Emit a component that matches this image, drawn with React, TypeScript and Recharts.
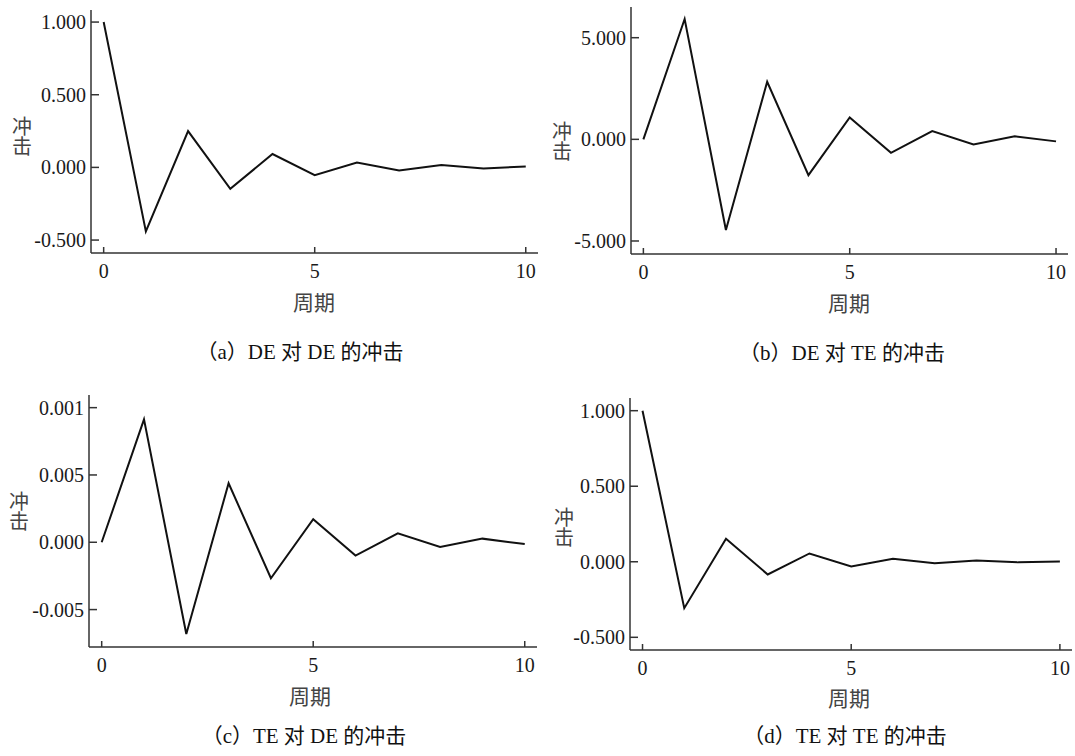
import React from 'react';
import { LineChart, Line, XAxis, YAxis } from 'recharts';

// ---- data ----
const periods = [0, 1, 2, 3, 4, 5, 6, 7, 8, 9, 10];
const deOnDe = [1.0, -0.44, 0.25, -0.147, 0.092, -0.053, 0.034, -0.021, 0.016, -0.007, 0.007];
const deOnTe = [0, 5.92, -4.46, 2.83, -1.76, 1.08, -0.66, 0.41, -0.25, 0.15, -0.1];
const teOnDe = [0, 0.00913, -0.00681, 0.00438, -0.00267, 0.00171, -0.00099, 0.00067, -0.00035, 0.00027, -0.00013];
const teOnTe = [1.0, -0.307, 0.152, -0.084, 0.055, -0.031, 0.02, -0.009, 0.009, -0.004, 0.002];

const xTicks = [0, 5, 10];
const xTickLabels = ['0', '5', '10'];
const yTicksA = [-0.5, 0, 0.5, 1];
const yTickLabelsA = ['-0.500', '0.000', '0.500', '1.000'];
const yTicksB = [-5, 0, 5];
const yTickLabelsB = ['-5.000', '0.000', '5.000'];
const yTicksC = [-0.005, 0, 0.005, 0.01];
const yTickLabelsC = ['-0.005', '0.000', '0.005', '0.001'];
const yTicksD = [-0.5, 0, 0.5, 1];
const yTickLabelsD = ['-0.500', '0.000', '0.500', '1.000'];

const captions = ['（a）DE 对 DE 的冲击', '（b）DE 对 TE 的冲击', '（c）TE 对 DE 的冲击', '（d）TE 对 TE 的冲击'];
const xAxisTitle = '周期';
const yAxisTitle = '冲击';

// ---- layout ----
const SERIF = '"Liberation Serif", "Times New Roman", "Noto Sans CJK SC", serif';
const CJK = '"Noto Sans CJK SC", sans-serif';
const XDOMAIN: [number, number] = [-0.3, 10.29];
const Y_AXIS_W = 80;
const X_AXIS_H = 40;

const panels = [
  {
    values: deOnDe, ticks: yTicksA, labels: yTickLabelsA, domain: [-0.589, 1.083],
    left: 0, top: 0, w: 540, h: 380, plot: { top: 10, left: 91, right: 2, bottom: 127 },
    yTitle: { x: 22, y: 136 }, xTitle: { x: 314, y: 301 }, caption: { x: 300, y: 352 },
  },
  {
    values: deOnTe, ticks: yTicksB, labels: yTickLabelsB, domain: [-5.64, 6.51],
    left: 540, top: 0, w: 535, h: 380, plot: { top: 7, left: 91, right: 7, bottom: 126 },
    yTitle: { x: 562, y: 141 }, xTitle: { x: 849, y: 302 }, caption: { x: 842, y: 353 },
  },
  {
    values: teOnDe, ticks: yTicksC, labels: yTickLabelsC, domain: [-0.00778, 0.01094],
    left: 0, top: 380, w: 540, h: 376, plot: { top: 15, left: 89, right: 3, bottom: 109 },
    yTitle: { x: 19, y: 511 }, xTitle: { x: 310, y: 695 }, caption: { x: 304, y: 736 },
  },
  {
    values: teOnTe, ticks: yTicksD, labels: yTickLabelsD, domain: [-0.584, 1.084],
    left: 540, top: 380, w: 535, h: 376, plot: { top: 18, left: 90, right: 3, bottom: 106 },
    yTitle: { x: 564, y: 527 }, xTitle: { x: 849, y: 697 }, caption: { x: 845, y: 736 },
  },
];

const axisColor = '#333';

function Panel({ p }: { p: (typeof panels)[number] }) {
  const data = periods.map((period, i) => ({ period, value: p.values[i] }));
  const fmtY = (v: number) => {
    const idx = p.ticks.findIndex((t) => Math.abs(t - v) < 1e-12);
    return idx >= 0 ? p.labels[idx] : String(v);
  };
  const fmtX = (v: number) => {
    const idx = xTicks.indexOf(v);
    return idx >= 0 ? xTickLabels[idx] : String(v);
  };
  const margin = {
    top: p.plot.top,
    right: p.plot.right,
    left: p.plot.left - Y_AXIS_W,
    bottom: p.plot.bottom - X_AXIS_H,
  };
  return (
    <div style={{ position: 'absolute', left: p.left, top: p.top, width: p.w, height: p.h }}>
      <LineChart width={p.w} height={p.h} data={data} margin={margin}>
        <XAxis
          dataKey="period"
          type="number"
          domain={XDOMAIN}
          ticks={xTicks}
          interval={0}
          height={X_AXIS_H}
          tickSize={-6}
          tickMargin={17}
          tickFormatter={fmtX}
          axisLine={{ stroke: axisColor, strokeWidth: 1.5 }}
          tickLine={{ stroke: axisColor, strokeWidth: 1.5 }}
          tick={{ fill: '#1a1a1a', fontSize: 20, fontFamily: SERIF }}
          allowDataOverflow
        />
        <YAxis
          type="number"
          domain={p.domain as [number, number]}
          ticks={p.ticks}
          interval={0}
          width={Y_AXIS_W}
          tickSize={-8}
          tickMargin={13}
          tickFormatter={fmtY}
          axisLine={{ stroke: axisColor, strokeWidth: 1.5 }}
          tickLine={{ stroke: axisColor, strokeWidth: 1.5 }}
          tick={{ fill: '#1a1a1a', fontSize: 20, fontFamily: SERIF }}
          allowDataOverflow
        />
        <Line
          type="linear"
          dataKey="value"
          stroke="#111"
          strokeWidth={2}
          dot={false}
          isAnimationActive={false}
        />
      </LineChart>
    </div>
  );
}

function Centered({ x, y, children, style }: { x: number; y: number; children: React.ReactNode; style?: React.CSSProperties }) {
  return (
    <div
      style={{
        position: 'absolute', left: x, top: y, transform: 'translate(-50%, -50%)',
        whiteSpace: 'nowrap', lineHeight: 1, color: '#1a1a1a', ...style,
      }}
    >
      {children}
    </div>
  );
}

export default function App() {
  return (
    <div style={{ position: 'absolute', left: 0, top: 0, width: 1075, height: 756, background: '#fff', overflow: 'hidden' }}>
      {panels.map((p, i) => (
        <Panel key={i} p={p} />
      ))}
      {panels.map((p, i) => (
        <React.Fragment key={'t' + i}>
          <Centered x={p.yTitle.x} y={p.yTitle.y} style={{ fontFamily: CJK, fontSize: 20, writingMode: 'vertical-rl', lineHeight: 1.05, color: '#444' }}>
            {yAxisTitle}
          </Centered>
          <Centered x={p.xTitle.x} y={p.xTitle.y} style={{ fontFamily: CJK, fontSize: 21, color: '#444' }}>
            {xAxisTitle}
          </Centered>
          <Centered x={p.caption.x} y={p.caption.y} style={{ fontFamily: SERIF, fontSize: 21, color: '#111' }}>
            {captions[i]}
          </Centered>
        </React.Fragment>
      ))}
    </div>
  );
}
